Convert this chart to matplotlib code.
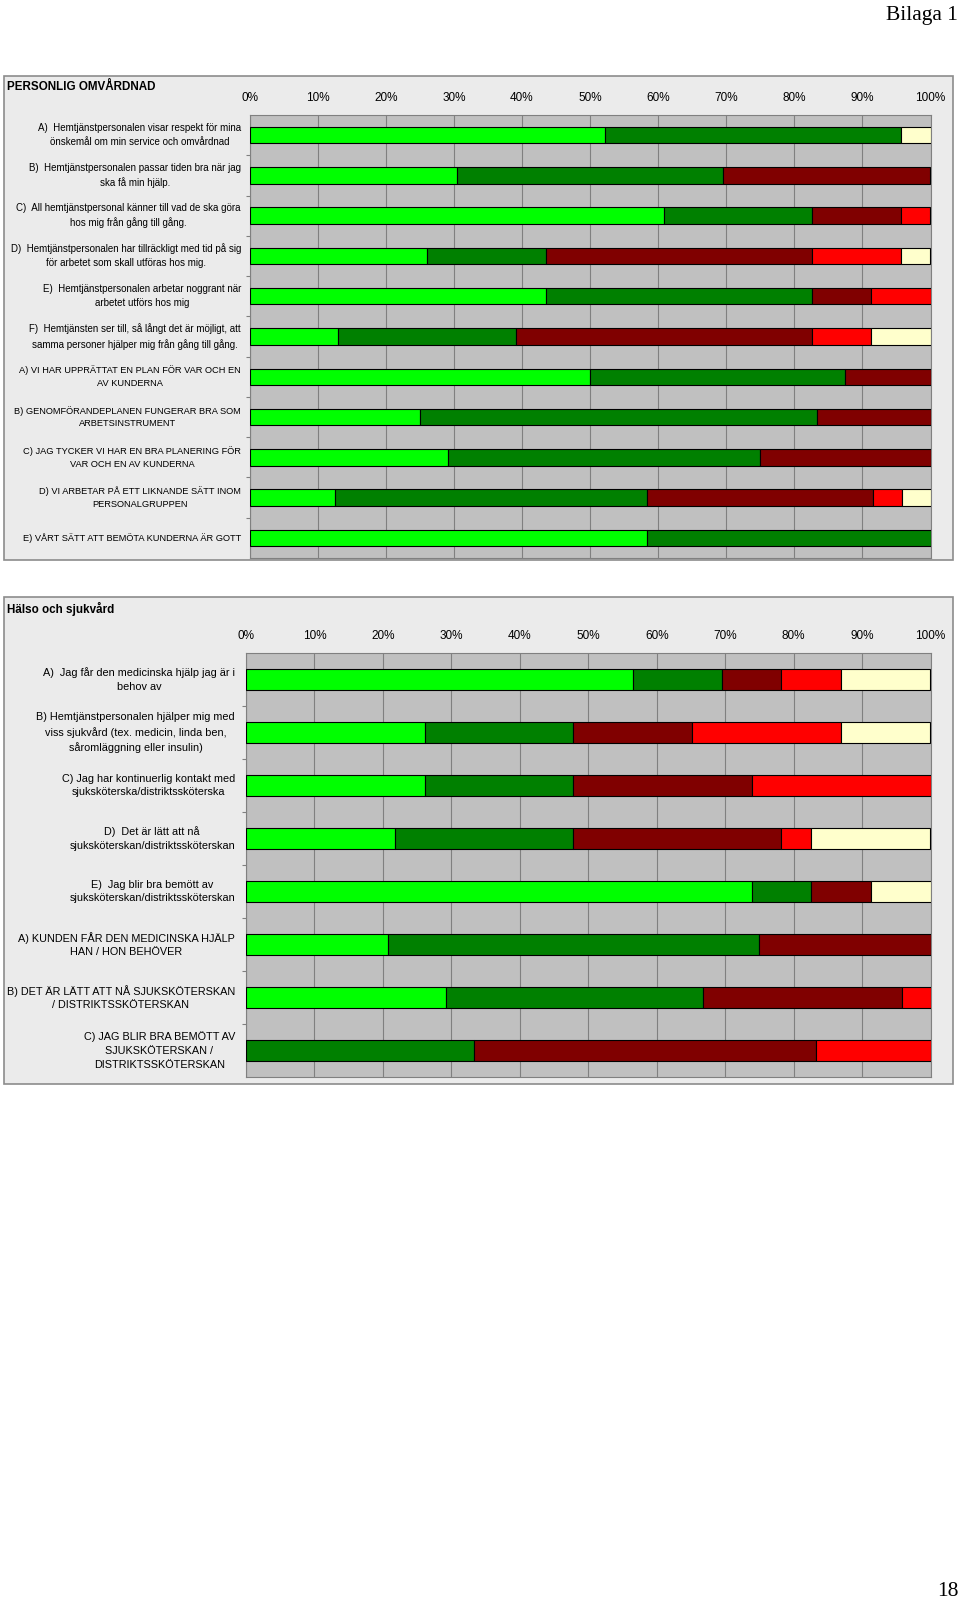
import matplotlib
matplotlib.use('Agg')
import matplotlib.pyplot as plt
from matplotlib.patches import Rectangle

# page size in pixels
W, H = 960, 1599

# colours used by the survey charts
colors = ['#00FF00', '#008000', '#800000', '#FF0000', '#FFFFCC']
chart_bg = '#EBEBEB'
plot_bg = '#C0C0C0'
grid_col = '#808080'

# ---- chart 1: PERSONLIG OMVÅRDNAD ----
pers_labels = [
    "A)  Hemtjänstpersonalen visar respekt för mina\nönskemål om min service och omvårdnad",
    "B)  Hemtjänstpersonalen passar tiden bra när jag\nska få min hjälp.",
    "C)  All hemtjänstpersonal känner till vad de ska göra\nhos mig från gång till gång.",
    "D)  Hemtjänstpersonalen har tillräckligt med tid på sig\nför arbetet som skall utföras hos mig.",
    "E)  Hemtjänstpersonalen arbetar noggrant när\narbetet utförs hos mig",
    "F)  Hemtjänsten ser till, så långt det är möjligt, att\nsamma personer hjälper mig från gång till gång.",
    "A) VI HAR UPPRÄTTAT EN PLAN FÖR VAR OCH EN\nAV KUNDERNA",
    "B) GENOMFÖRANDEPLANEN FUNGERAR BRA SOM\nARBETSINSTRUMENT",
    "C) JAG TYCKER VI HAR EN BRA PLANERING FÖR\nVAR OCH EN AV KUNDERNA",
    "D) VI ARBETAR PÅ ETT LIKNANDE SÄTT INOM\nPERSONALGRUPPEN",
    "E) VÅRT SÄTT ATT BEMÖTA KUNDERNA ÄR GOTT",
]
# percent per answer category (light green .. cream)
pers_mycket_bra = [52.2, 30.4, 60.9, 26.1, 43.5, 13.0, 50.0, 25.0, 29.2, 12.5, 58.3]
pers_bra        = [43.5, 39.1, 21.7, 17.4, 39.1, 26.1, 37.5, 58.3, 45.8, 45.8, 41.7]
pers_daligt     = [0.0, 30.4, 13.0, 39.1, 8.7, 43.5, 12.5, 16.7, 25.0, 33.3, 0.0]
pers_mkt_daligt = [0.0, 0.0, 4.3, 13.0, 8.7, 8.7, 0.0, 0.0, 0.0, 4.2, 0.0]
pers_vet_ej     = [4.3, 0.0, 0.0, 4.3, 0.0, 8.7, 0.0, 0.0, 0.0, 4.2, 0.0]

# ---- chart 2: Hälso och sjukvård ----
halso_labels = [
    "A)  Jag får den medicinska hjälp jag är i\nbehov av",
    "B) Hemtjänstpersonalen hjälper mig med\nviss sjukvård (tex. medicin, linda ben,\nsåromläggning eller insulin)",
    "C) Jag har kontinuerlig kontakt med\nsjuksköterska/distriktssköterska",
    "D)  Det är lätt att nå\nsjuksköterskan/distriktssköterskan",
    "E)  Jag blir bra bemött av\nsjuksköterskan/distriktssköterskan",
    "A) KUNDEN FÅR DEN MEDICINSKA HJÄLP\nHAN / HON BEHÖVER",
    "B) DET ÄR LÄTT ATT NÅ SJUKSKÖTERSKAN\n/ DISTRIKTSSKÖTERSKAN",
    "C) JAG BLIR BRA BEMÖTT AV\nSJUKSKÖTERSKAN /\nDISTRIKTSSKÖTERSKAN",
]
halso_mycket_bra = [56.5, 26.1, 26.1, 21.7, 73.9, 20.8, 29.2, 0.0]
halso_bra        = [13.0, 21.7, 21.7, 26.1, 8.7, 54.2, 37.5, 33.3]
halso_daligt     = [8.7, 17.4, 26.1, 30.4, 8.7, 25.0, 29.2, 50.0]
halso_mkt_daligt = [8.7, 21.7, 26.1, 4.3, 0.0, 0.0, 4.2, 16.7]
halso_vet_ej     = [13.0, 13.0, 0.0, 17.4, 8.7, 0.0, 0.0, 0.0]

xticks = list(range(0, 101, 10))

fig = plt.figure(figsize=(W / 100, H / 100), dpi=100)
fig.patch.set_facecolor('white')


def px_rect(l, t, r, b):
    # pixel box -> figure fraction [left, bottom, width, height]
    return [l / W, 1 - b / H, (r - l) / W, (b - t) / H]


def draw_chart(box, plot, title, title_y, labels, series, label_right,
               size_lower, size_upper, label_spacing):
    # chart area behind the plot
    fig.patches.append(Rectangle((box[0] / W, 1 - box[3] / H),
                                 (box[2] - box[0]) / W, (box[3] - box[1]) / H,
                                 transform=fig.transFigure, facecolor=chart_bg,
                                 edgecolor='#8C8C8C', linewidth=1.2, zorder=-1))
    fig.text(7 / W, 1 - title_y / H, title, fontsize=8.4, fontweight='bold',
             family='Liberation Sans', va='center', ha='left')

    ax = fig.add_axes(px_rect(*plot))
    ax.set_facecolor(plot_bg)
    n = len(labels)
    ypos = list(range(n))
    left = [0.0] * n
    for vals, col in zip(series, colors):
        idx = [i for i in range(n) if vals[i] > 0]
        ax.barh([ypos[i] for i in idx], [vals[i] for i in idx],
                left=[left[i] for i in idx], height=0.41, color=col,
                edgecolor='black', linewidth=0.8, zorder=3)
        left = [a + b for a, b in zip(left, vals)]

    ax.set_xlim(0, 100)
    ax.set_ylim(n - 0.5, -0.5)
    ax.xaxis.tick_top()
    ax.set_xticks(xticks)
    ax.set_xticklabels([f'{v}%' for v in xticks], fontsize=8.5,
                       family='Liberation Sans')
    ax.tick_params(axis='x', length=0, pad=8)
    ax.xaxis.grid(True, color=grid_col, linewidth=0.8, zorder=0)
    ax.set_axisbelow(True)

    ax.set_yticks([i + 0.5 for i in range(n - 1)])
    ax.set_yticklabels([])
    ax.tick_params(axis='y', length=3, width=0.8, color=grid_col, direction='out')
    for s in ax.spines.values():
        s.set_color(grid_col)
        s.set_linewidth(0.8)

    # category labels, right aligned next to the axis
    plot_w = plot[2] - plot[0]
    xoff = (label_right - plot[0]) / plot_w
    for i, lab in enumerate(labels):
        size = size_upper if lab.upper() == lab else size_lower
        ax.text(xoff, i, lab, transform=ax.get_yaxis_transform(),
                ha='right', va='center', multialignment='center',
                fontsize=size, family='Liberation Sans',
                linespacing=label_spacing)
    return ax


draw_chart((4, 76, 953, 560), (249.5, 115, 930.5, 558),
           'PERSONLIG OMVÅRDNAD', 87, pers_labels,
           [pers_mycket_bra, pers_bra, pers_daligt, pers_mkt_daligt, pers_vet_ej],
           241, 7.0, 6.7, 1.5)

draw_chart((4, 597, 953, 1084), (246, 653, 930.5, 1077),
           'Hälso och sjukvård', 609, halso_labels,
           [halso_mycket_bra, halso_bra, halso_daligt, halso_mkt_daligt, halso_vet_ej],
           235, 7.8, 7.8, 1.47)

# page header and page number
fig.text(958 / W, 1 - 20 / H, 'Bilaga 1', fontsize=15.5, family='Liberation Serif',
         ha='right', va='baseline')
fig.text(959 / W, 1 - 1596 / H, '18', fontsize=15.5, family='Liberation Serif',
         ha='right', va='baseline')

fig.savefig('out.png', dpi=100)
